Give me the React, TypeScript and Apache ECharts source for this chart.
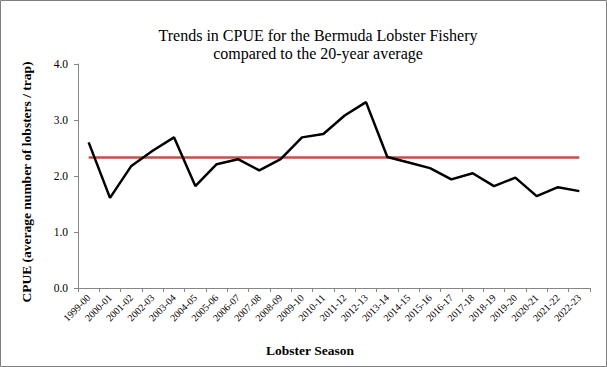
import React, { useEffect, useRef } from "react";
import * as echarts from "echarts";

const seasons = [
  "1999-00", "2000-01", "2001-02", "2002-03", "2003-04", "2004-05", "2005-06", "2006-07",
  "2007-08", "2008-09", "2009-10", "2010-11", "2011-12", "2012-13", "2013-14", "2014-15",
  "2015-16", "2016-17", "2017-18", "2018-19", "2019-20", "2020-21", "2021-22", "2022-23",
];
const cpue = [
  2.6, 1.61, 2.18, 2.45, 2.69, 1.82, 2.21, 2.3, 2.1, 2.3, 2.69, 2.75, 3.08, 3.32, 2.34, 2.24,
  2.14, 1.94, 2.05, 1.82, 1.97, 1.64, 1.8, 1.73,
];
const average20 = 2.33;
const yTicks = { min: 0, max: 4, interval: 1 };
const xTitle = "Lobster Season";
const yTitle = "CPUE (average number of lobsters / trap)";

const serif = "'Liberation Serif', 'Times New Roman', serif";

export default function App() {
  const ref = useRef<HTMLDivElement>(null);
  useEffect(() => {
    if (!ref.current) return;
    const chart = echarts.init(ref.current, null, { renderer: "svg" });
    chart.setOption({
      animation: false,
      backgroundColor: "#ffffff",
      title: {
        text: "Trends in CPUE for the Bermuda Lobster Fishery\ncompared to the 20-year average",
        left: 313,
        top: 21,
        textAlign: "center",
        textStyle: { fontFamily: serif, fontSize: 16, fontWeight: "normal", color: "#000", lineHeight: 18 },
      },
      graphic: [
        {
          type: "rect",
          shape: { x: 0.5, y: 0.5, width: 606, height: 366 },
          style: { fill: "none", stroke: "#7f7f7f", lineWidth: 1 },
          silent: true,
        },
        {
          type: "text",
          x: 310,
          y: 350,
          style: {
            text: xTitle,
            fontFamily: serif,
            fontSize: 13.5,
            fontWeight: "bold",
            fill: "#000",
            align: "center",
            verticalAlign: "middle",
          },
          silent: true,
        },
        {
          type: "text",
          x: 26,
          y: 182,
          rotation: Math.PI / 2,
          style: {
            text: yTitle,
            fontFamily: serif,
            fontSize: 13.5,
            fontWeight: "bold",
            fill: "#000",
            align: "center",
            verticalAlign: "middle",
          },
          silent: true,
        },
      ],
      grid: { left: 78, right: 17, top: 64, bottom: 79 },
      xAxis: {
        type: "category",
        data: seasons,
        boundaryGap: true,
        axisLine: { lineStyle: { color: "#868686", width: 1 } },
        axisTick: { show: true, alignWithLabel: false, length: 4, lineStyle: { color: "#868686" } },
        axisLabel: {
          interval: 0,
          rotate: 45,
          fontFamily: serif,
          fontSize: 10,
          color: "#000",
          margin: 8,
        },
      },
      yAxis: {
        type: "value",
        min: yTicks.min,
        max: yTicks.max,
        interval: yTicks.interval,
        splitLine: { show: false },
        axisLine: { show: true, lineStyle: { color: "#868686", width: 1 } },
        axisTick: { show: true, length: 4, lineStyle: { color: "#868686" } },
        axisLabel: {
          fontFamily: serif,
          fontSize: 11.5,
          color: "#000",
          margin: 10,
          formatter: (v: number) => v.toFixed(1),
        },
      },
      series: [
        {
          name: "CPUE",
          type: "line",
          data: cpue,
          symbol: "none",
          lineStyle: { color: "#000000", width: 2.5 },
          z: 3,
        },
        {
          name: "20-year average",
          type: "line",
          data: seasons.map(() => average20),
          symbol: "none",
          lineStyle: { color: "#c0504d", width: 2.5 },
          z: 2,
        },
      ],
    });
    return () => chart.dispose();
  }, []);
  return (
    <div
      ref={ref}
      style={{ position: "fixed", left: 0, top: 0, width: 607, height: 367 }}
    />
  );
}
